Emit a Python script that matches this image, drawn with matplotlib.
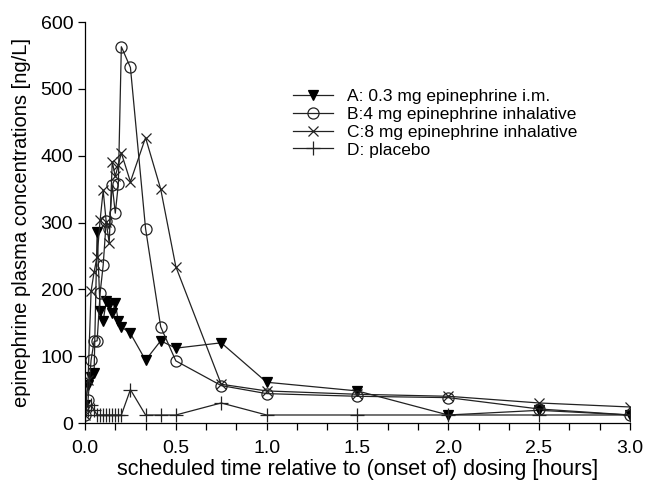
import matplotlib.pyplot as plt
import numpy as np
from matplotlib.ticker import MultipleLocator, FormatStrFormatter

plt.rcParams["font.family"] = ["Liberation Sans", "DejaVu Sans"]

# sampling times in minutes after (onset of) dosing
minutes = [0, 1, 2, 3, 4, 5, 6, 7, 8, 9, 10, 11, 12,
           15, 20, 25, 30, 45, 60, 90, 120, 150, 180]
hours = np.array(minutes) / 60.0

# epinephrine plasma concentrations [ng/L]
group_a = [27, 57, 69, 75, 286, 167, 153, 182, 177, 164, 180, 152, 144,
           134, 94, 123, 112, 120, 61, 48, 12, 19, 12]
group_b = [12, 34, 94, 122, 123, 195, 236, 302, 290, 356, 314, 357, 563,
           532, 291, 144, 93, 56, 44, 40, 38, 21, 12]
group_c = [12, 64, 197, 226, 249, 304, 348, 301, 269, 391, 369, 386, 404,
           361, 427, 350, 234, 58, 48, 43, 40, 30, 24]
group_d = [12, 20, 27, 19, 12, 12, 12, 12, 12, 12, 12, 12, 12,
           50, 12, 12, 12, 30, 12, 12, 12, 12, 12]

labels = [
    "A: 0.3 mg epinephrine i.m.",
    "B:4 mg epinephrine inhalative",
    "C:8 mg epinephrine inhalative",
    "D: placebo",
]

fig = plt.figure(figsize=(6.46, 4.86), dpi=100)
ax = fig.add_axes([0.1316, 0.1296, 0.8434, 0.8251])

line_kw = dict(color="#222222", linewidth=0.9, markeredgewidth=0.9)

ax.plot(hours, group_a, marker="v", markersize=7, markerfacecolor="black",
        markeredgecolor="black", label=labels[0], **line_kw)
ax.plot(hours, group_b, marker="o", markersize=8, markerfacecolor="none",
        markeredgecolor="#222222", label=labels[1], **line_kw)
ax.plot(hours, group_c, marker="x", markersize=6.5,
        markeredgecolor="#222222", label=labels[2], **line_kw)
ax.plot(hours, group_d, marker="+", markersize=10,
        markeredgecolor="#222222", label=labels[3], **line_kw)

ax.set_xlim(0, 3)
ax.set_ylim(0, 600)

ax.xaxis.set_major_locator(MultipleLocator(0.5))
ax.xaxis.set_minor_locator(MultipleLocator(1 / 6))
ax.xaxis.set_major_formatter(FormatStrFormatter("%.1f"))
ax.yaxis.set_major_locator(MultipleLocator(100))

ax.tick_params(axis="both", which="both", direction="out", length=5,
               width=0.9, labelsize=14)
ax.tick_params(axis="x", pad=7)

for side in ["top", "right"]:
    ax.spines[side].set_visible(False)
for side in ["left", "bottom"]:
    ax.spines[side].set_linewidth(0.9)

ax.set_xlabel("scheduled time relative to (onset of) dosing [hours]",
              fontsize=15.5, labelpad=2)
ax.set_ylabel("epinephrine plasma concentrations [ng/L]", fontsize=14.5,
              labelpad=7)

ax.legend(loc="upper left", bbox_to_anchor=(0.369, 0.85), frameon=False,
          fontsize=12.5, handlelength=2.3, handletextpad=0.8,
          labelspacing=0.15, borderaxespad=0)

fig.savefig("out.png", dpi=100)
